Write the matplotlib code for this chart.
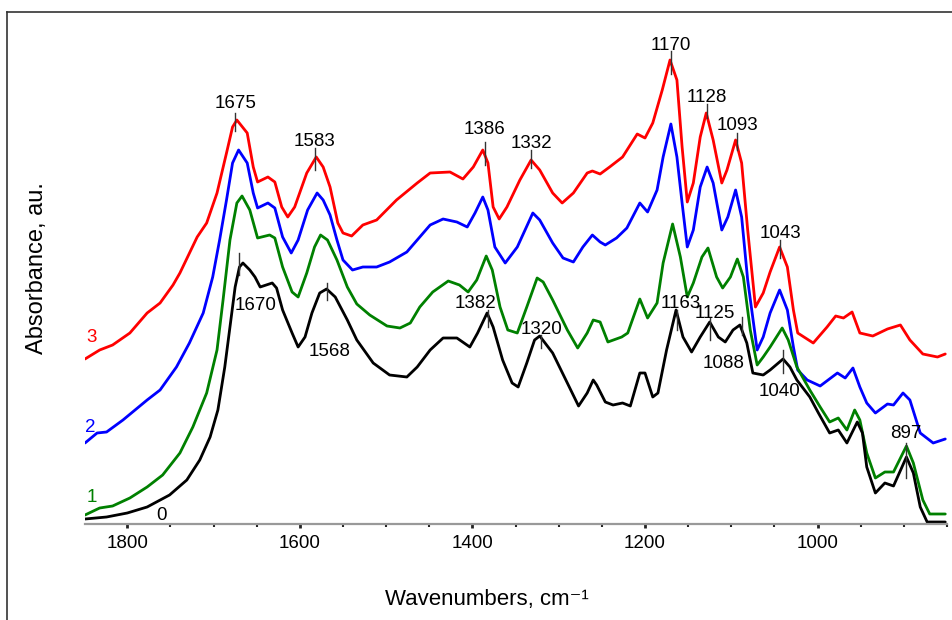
import matplotlib
matplotlib.use("Agg")
import matplotlib.pyplot as plt
from matplotlib.lines import Line2D
from matplotlib.ticker import MultipleLocator

plt.rcParams["font.family"] = ["Liberation Sans", "DejaVu Sans"]

# spectra: wavenumber (cm-1) and absorbance (a.u.)
wn_3 = [1849, 1832, 1817, 1797, 1777, 1762, 1747, 1739, 1719, 1708, 1696, 1685, 1678, 1673,
        1661, 1654, 1649, 1637, 1629, 1621, 1614, 1606, 1592, 1581, 1573, 1565, 1556, 1550,
        1540, 1527, 1511, 1488, 1464, 1449, 1426, 1411, 1399, 1388, 1382, 1376, 1369, 1360,
        1345, 1332, 1322, 1307, 1296, 1283, 1267, 1261, 1252, 1241, 1226, 1209, 1200, 1191,
        1180, 1171, 1163, 1157, 1151, 1144, 1136, 1129, 1121, 1111, 1105, 1095, 1088, 1081,
        1072, 1063, 1055, 1044, 1035, 1028, 1023, 1005, 989, 979, 970, 960, 951, 936, 919,
        904, 893, 878, 861, 852]
abs_3 = [1.65, 1.74, 1.79, 1.91, 2.11, 2.21, 2.39, 2.51, 2.87, 3.01, 3.31, 3.71, 3.97, 4.04,
         3.91, 3.57, 3.42, 3.47, 3.42, 3.17, 3.07, 3.17, 3.51, 3.67, 3.57, 3.37, 3.01, 2.91,
         2.88, 2.99, 3.04, 3.24, 3.41, 3.51, 3.52, 3.45, 3.57, 3.74, 3.61, 3.17, 3.05, 3.17,
         3.44, 3.64, 3.54, 3.31, 3.21, 3.31, 3.51, 3.53, 3.50, 3.57, 3.67, 3.90, 3.86, 4.01,
         4.34, 4.64, 4.44, 3.77, 3.22, 3.41, 3.87, 4.11, 3.84, 3.41, 3.54, 3.84, 3.61, 2.94,
         2.17, 2.31, 2.52, 2.77, 2.57, 2.14, 1.91, 1.81, 1.97, 2.08, 2.06, 2.12, 1.91, 1.88, 1.95,
         1.99, 1.84, 1.70, 1.67, 1.70]

wn_2 = [1849, 1835, 1824, 1805, 1777, 1762, 1743, 1728, 1712, 1701, 1693, 1685, 1678, 1671,
        1661, 1654, 1649, 1637, 1629, 1620, 1610, 1602, 1591, 1580, 1573, 1565, 1557, 1550,
        1539, 1527, 1511, 1496, 1476, 1461, 1449, 1434, 1418, 1406, 1397, 1388, 1382, 1374,
        1362, 1348, 1330, 1322, 1307, 1295, 1283, 1272, 1261, 1252, 1246, 1233, 1221, 1206,
        1197, 1186, 1179, 1170, 1163, 1157, 1151, 1144, 1136, 1128, 1121, 1111, 1104, 1095,
        1088, 1081, 1070, 1063, 1055, 1044, 1035, 1028, 1023, 1012, 997, 977, 968, 959, 951,
        943, 933, 919, 912, 901, 893, 881, 866, 852]
abs_2 = [0.81, 0.91, 0.92, 1.04, 1.24, 1.34, 1.57, 1.81, 2.11, 2.47, 2.84, 3.24, 3.61, 3.74,
         3.61, 3.31, 3.16, 3.21, 3.16, 2.87, 2.71, 2.84, 3.14, 3.31, 3.24, 3.09, 2.84, 2.64,
         2.54, 2.57, 2.57, 2.62, 2.72, 2.87, 2.99, 3.05, 3.02, 2.97, 3.11, 3.27, 3.14, 2.77,
         2.61, 2.77, 3.11, 3.04, 2.81, 2.66, 2.62, 2.77, 2.89, 2.82, 2.79, 2.86, 2.96, 3.21,
         3.12, 3.34, 3.67, 4.00, 3.67, 3.21, 2.77, 2.94, 3.37, 3.57, 3.41, 2.94, 3.07, 3.34,
         3.07, 2.44, 1.74, 1.87, 2.11, 2.34, 2.14, 1.77, 1.54, 1.44, 1.38, 1.51, 1.46, 1.56, 1.37,
         1.21, 1.11, 1.20, 1.19, 1.31, 1.24, 0.91, 0.81, 0.85]

wn_1 = [1849, 1832, 1817, 1797, 1777, 1759, 1739, 1724, 1708, 1696, 1689, 1681, 1673, 1667,
        1658, 1649, 1635, 1629, 1620, 1609, 1602, 1592, 1583, 1576, 1568, 1557, 1545, 1534,
        1519, 1499, 1484, 1472, 1461, 1446, 1428, 1415, 1405, 1395, 1384, 1377, 1368, 1359,
        1348, 1337, 1325, 1318, 1307, 1290, 1278, 1267, 1260, 1252, 1243, 1227, 1220, 1206,
        1197, 1186, 1179, 1168, 1159, 1151, 1144, 1134, 1127, 1117, 1110, 1101, 1093, 1086,
        1078, 1070, 1063, 1055, 1041, 1034, 1024, 1009, 997, 986, 976, 966, 957, 951, 943,
        933, 922, 912, 897, 889, 878, 870, 852]
abs_1 = [0.09, 0.16, 0.18, 0.26, 0.37, 0.49, 0.71, 0.97, 1.31, 1.74, 2.24, 2.84, 3.21, 3.28,
         3.14, 2.86, 2.89, 2.86, 2.57, 2.32, 2.27, 2.51, 2.77, 2.89, 2.84, 2.64, 2.37, 2.20,
         2.09, 1.98, 1.96, 2.01, 2.17, 2.32, 2.43, 2.39, 2.32, 2.44, 2.68, 2.54, 2.17, 1.94,
         1.91, 2.17, 2.46, 2.42, 2.24, 1.94, 1.76, 1.91, 2.04, 2.02, 1.82, 1.87, 1.91, 2.25,
         2.06, 2.21, 2.61, 3.00, 2.67, 2.27, 2.41, 2.67, 2.76, 2.47, 2.36, 2.47, 2.65, 2.47,
         1.94, 1.59, 1.67, 1.77, 1.96, 1.84, 1.57, 1.34, 1.17, 1.02, 1.06, 0.94, 1.14, 1.04, 0.71,
         0.46, 0.52, 0.52, 0.78, 0.61, 0.24, 0.10, 0.10]

wn_0 = [1849, 1824, 1800, 1777, 1751, 1731, 1716, 1704, 1695, 1687, 1681, 1675, 1670, 1666,
        1658, 1652, 1646, 1632, 1627, 1620, 1609, 1602, 1594, 1586, 1577, 1569, 1559, 1545,
        1534, 1515, 1496, 1476, 1464, 1449, 1434, 1418, 1403, 1394, 1383, 1376, 1365, 1354,
        1347, 1337, 1328, 1322, 1307, 1290, 1277, 1267, 1260, 1256, 1246, 1237, 1226, 1217,
        1206, 1200, 1191, 1185, 1175, 1164, 1156, 1146, 1136, 1125, 1115, 1107, 1098, 1090,
        1082, 1075, 1063, 1055, 1040, 1032, 1024, 1009, 999, 986, 976, 966, 954, 948, 943,
        933, 922, 912, 897, 889, 881, 873, 852]
abs_0 = [0.05, 0.07, 0.11, 0.17, 0.29, 0.44, 0.64, 0.87, 1.14, 1.57, 1.97, 2.37, 2.57, 2.61,
         2.54, 2.47, 2.37, 2.41, 2.36, 2.14, 1.91, 1.77, 1.87, 2.11, 2.31, 2.35, 2.27, 2.04,
         1.84, 1.61, 1.49, 1.47, 1.57, 1.74, 1.86, 1.86, 1.77, 1.91, 2.11, 1.97, 1.64, 1.41,
         1.37, 1.61, 1.84, 1.88, 1.71, 1.41, 1.18, 1.31, 1.44, 1.39, 1.22, 1.19, 1.21, 1.18,
         1.51, 1.51, 1.27, 1.31, 1.74, 2.14, 1.87, 1.72, 1.87, 2.02, 1.87, 1.82, 1.94, 1.99,
         1.81, 1.51, 1.49, 1.54, 1.65, 1.57, 1.44, 1.27, 1.11, 0.91, 0.94, 0.81, 1.02, 0.91, 0.57,
         0.31, 0.41, 0.38, 0.67, 0.51, 0.17, 0.02, 0.02]

series = [
    ("3", wn_3, abs_3, "#ff0000"),
    ("2", wn_2, abs_2, "#0000ff"),
    ("1", wn_1, abs_1, "#008000"),
    ("0", wn_0, abs_0, "#000000"),
]

# curve labels: text, x, y
curve_labels = [("3", 1842, 1.86, "#ff0000"), ("2", 1843, 0.97, "#0000ff"),
                ("1", 1841, 0.27, "#008000"), ("0", 1760, 0.08, "#000000")]

# peak marks: wavenumber, text x, text y, tick top, tick bottom
peaks = [
    (1675, 1675, 4.20, 4.11, 3.93),
    (1583, 1583, 3.83, 3.76, 3.54),
    (1386, 1386, 3.95, 3.82, 3.59),
    (1332, 1332, 3.81, 3.74, 3.56),
    (1170, 1170, 4.78, 4.73, 4.50),
    (1128, 1128, 4.27, 4.20, 4.06),
    (1093, 1093, 3.98, 3.91, 3.74),
    (1043, 1043, 2.91, 2.84, 2.66),
    (1670, 1651, 2.19, 2.71, 2.49),
    (1568, 1566, 1.72, 2.41, 2.24),
    (1382, 1396, 2.20, 2.14, 1.97),
    (1320, 1320, 1.94, 1.89, 1.76),
    (1163, 1159, 2.20, 2.14, 1.94),
    (1125, 1119, 2.10, 2.06, 1.84),
    (1088, 1109, 1.61, 2.07, 1.89),
    (1040, 1044, 1.32, 1.74, 1.51),
    (897, 898, 0.91, 0.81, 0.46),
]

fig = plt.figure(figsize=(9.53, 6.2), dpi=100)
ax = fig.add_axes([85 / 953, 1 - 524 / 620, 862 / 953, 512 / 620])

for name, x, y, c in series:
    ax.plot(x, y, color=c, lw=2.0, solid_joinstyle="round", solid_capstyle="round")

for t, x, y, c in curve_labels:
    ax.text(x, y, t, color=c, fontsize=13.5, ha="center", va="center")

for x, tx, ty, t0, t1 in peaks:
    ax.plot([x, x], [t0, t1], color="#333333", lw=1.0)
    ax.text(tx, ty, str(x), fontsize=13.5, ha="center", va="center")

ax.set_xlim(1849, 850)
ax.set_ylim(0, 5.12)
for s in ("left", "right", "top"):
    ax.spines[s].set_visible(False)
ax.spines["bottom"].set_color("#999999")
ax.spines["bottom"].set_linewidth(1.6)
ax.set_yticks([])
ax.xaxis.set_major_locator(MultipleLocator(200))
ax.xaxis.set_minor_locator(MultipleLocator(50))
ax.tick_params(axis="x", which="major", length=3, width=2, color="#222222",
               labelsize=13.5, pad=5)
ax.tick_params(axis="x", which="minor", length=2, width=1.5, color="#222222")
ax.set_xlabel("Wavenumbers, cm\u207b\u00b9", fontsize=16)
ax.xaxis.set_label_coords(0.466, -0.127)
ax.set_ylabel("Absorbance, au.", fontsize=17)
ax.yaxis.set_label_coords(-0.043, 0.50)

# outer frame, cut off at right and bottom
fx = 7 / 953
fy = 1 - 12 / 620
fig.add_artist(Line2D([fx, fx], [0, fy], transform=fig.transFigure, color="#333333", lw=1.2))
fig.add_artist(Line2D([fx, 1], [fy, fy], transform=fig.transFigure, color="#333333", lw=1.2))

fig.savefig("out.png", dpi=100)
